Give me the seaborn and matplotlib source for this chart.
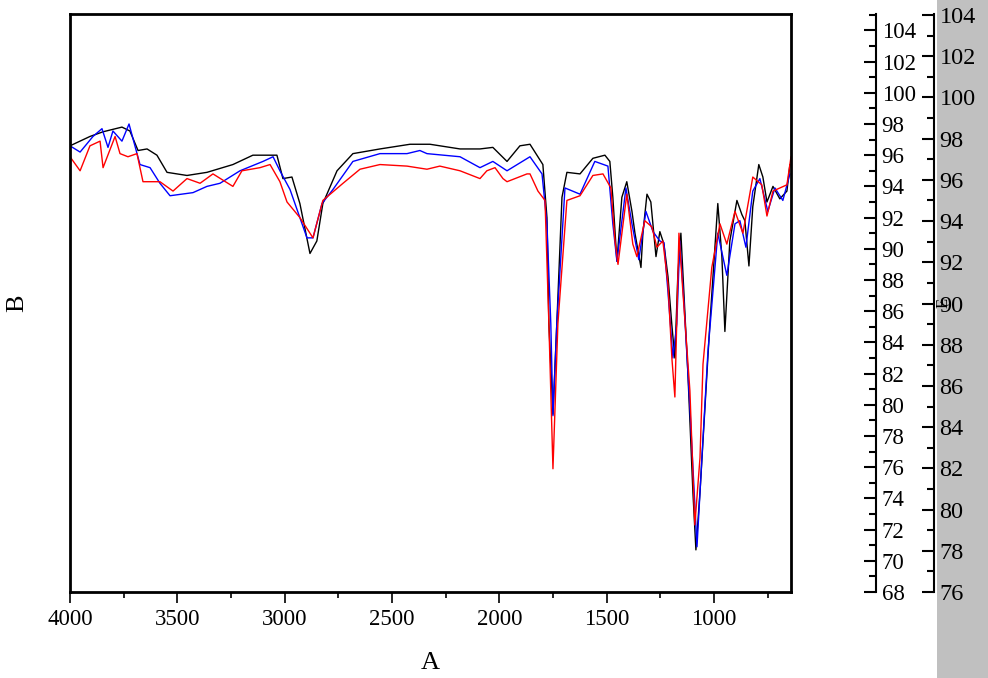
import numpy as np
import pandas as pd
import matplotlib
matplotlib.use("Agg")
import matplotlib.pyplot as plt
from matplotlib.ticker import MultipleLocator
from matplotlib.patches import Rectangle
import seaborn as sns

black_wn = [4000,3907,3846,3758,3721,3683,3641,3595,3548,3455,3362,3241,3148,3036,3008,2966,2929,2882,2850,2822,2756,2682,2556,2416,2323,2183,2090,2030,1964,1904,1857,1797,1778,1769,1750,1732,1708,1685,1624,1564,1508,1485,1471,1452,1429,1406,1382,1368,1340,1331,1312,1294,1270,1252,1233,1214,1196,1182,1168,1154,1140,1121,1098,1084,1065,1042,1019,982,963,949,926,893,870,856,837,819,791,772,753,725,693,660,646]
black_t = [96.6,97.2,97.5,97.8,97.55,96.3,96.4,96.0,94.9,94.7,94.9,95.4,96.0,96.0,94.5,94.6,92.9,89.7,90.5,92.9,95.0,96.1,96.4,96.7,96.7,96.4,96.4,96.5,95.6,96.6,96.7,95.4,92.0,85.2,79.4,85.2,93.3,94.9,94.8,95.8,96.0,95.6,93.3,89.2,93.3,94.3,92.4,91.0,88.8,91.0,93.5,93.0,89.5,91.1,90.3,88.2,85.1,83.0,88.4,91.0,87.2,81.9,74.4,70.7,74.4,79.8,85.2,92.9,89.5,84.7,90.5,93.1,92.2,91.8,88.9,92.7,95.4,94.6,93.0,94.0,93.2,93.7,95.4]

blue_wn = [4000,3953,3893,3851,3823,3800,3758,3725,3674,3627,3581,3534,3427,3362,3301,3208,3101,3054,3022,2975,2896,2868,2826,2775,2682,2556,2430,2370,2337,2183,2090,2030,1964,1857,1801,1778,1760,1750,1732,1694,1624,1555,1494,1471,1452,1410,1382,1350,1317,1284,1252,1233,1214,1191,1173,1159,1140,1112,1079,1056,1028,982,940,902,879,851,819,786,749,716,679,646]
blue_t = [96.6,96.2,97.2,97.7,96.5,97.55,96.9,98.0,95.4,95.2,94.2,93.4,93.6,94.0,94.2,95.0,95.6,95.9,95.0,93.8,90.7,90.7,92.9,93.8,95.6,96.1,96.1,96.3,96.1,95.9,95.2,95.6,95.0,95.9,94.8,91.6,85.2,79.3,85.2,93.9,93.5,95.6,95.3,91.6,89.2,93.9,91.6,89.3,92.4,91.1,90.5,90.4,87.2,83.0,85.2,90.5,86.6,79.8,70.9,76.6,83.4,91.0,88.3,91.6,91.8,90.1,93.7,94.5,92.4,93.9,93.1,94.8]

red_wn = [4000,3953,3907,3860,3846,3790,3767,3730,3688,3660,3581,3520,3455,3394,3334,3241,3199,3115,3068,3022,2989,2929,2868,2822,2728,2649,2556,2430,2337,2277,2183,2090,2058,2020,1983,1964,1871,1857,1820,1787,1769,1750,1727,1685,1624,1564,1517,1480,1461,1447,1406,1378,1359,1322,1289,1266,1238,1214,1196,1182,1163,1145,1112,1089,1065,1051,1010,972,940,902,865,819,777,753,725,660,641]
red_t = [95.9,95.0,96.6,96.9,95.2,97.2,96.1,95.9,96.1,94.3,94.3,93.7,94.5,94.2,94.8,94.0,95.0,95.2,95.4,94.3,93.0,92.0,90.7,93.1,94.2,95.1,95.4,95.3,95.1,95.3,95.0,94.5,95.0,95.2,94.5,94.3,94.8,94.8,93.7,93.1,85.2,75.9,85.2,93.1,93.4,94.7,94.8,93.9,90.5,89.0,93.5,90.3,89.5,91.8,91.4,90.1,90.5,87.7,83.0,80.5,91.0,87.3,80.9,72.3,76.6,82.6,88.8,91.6,90.3,92.4,91.0,94.6,94.1,92.1,93.7,94.1,95.9]

x_ticks = [4000, 3500, 3000, 2500, 2000, 1500, 1000]

sns.set_theme(style="ticks")
plt.rcParams['font.family'] = ['Liberation Serif', 'DejaVu Serif']
plt.rcParams['text.color'] = 'black'
plt.rcParams['axes.labelcolor'] = 'black'
plt.rcParams['xtick.color'] = 'black'
plt.rcParams['ytick.color'] = 'black'

fig = plt.figure(figsize=(9.88, 6.78), dpi=100)
fig.patches.append(Rectangle((937/988, 0), 51/988, 1, transform=fig.transFigure,
                             facecolor='#c0c0c0', edgecolor='none', zorder=-10))
ax = fig.add_axes([70/988, 86/678, 721/988, 578/678])
ax.patch.set_alpha(0)

df = pd.concat([
    pd.DataFrame({'wn': black_wn, 't': black_t, 's': 'black'}),
    pd.DataFrame({'wn': blue_wn, 't': blue_t, 's': 'blue'}),
    pd.DataFrame({'wn': red_wn, 't': red_t, 's': 'red'}),
])
sns.lineplot(data=df, x='wn', y='t', hue='s', palette={'black': 'black', 'blue': '#0000ff', 'red': '#ff0000'},
             sort=False, estimator=None, linewidth=1.0, legend=False, ax=ax)
ax.set_xlim(4000, 641)
ax.set_ylim(68, 105.05)
ax.set_xticks(x_ticks)
ax.xaxis.set_minor_locator(MultipleLocator(250))
ax.tick_params(axis='x', which='major', direction='out', length=8, width=1.2, labelsize=16.5, pad=4, labelcolor='black')
ax.tick_params(axis='x', which='minor', direction='out', length=4, width=1.2)
ax.set_yticks([])
ax.tick_params(axis='y', left=False, labelleft=False)
for sp in ax.spines.values():
    sp.set_visible(True)
    sp.set_linewidth(2)
    sp.set_color('black')
ax.set_xlabel('A', fontsize=19, labelpad=16)
ax.set_ylabel('B', fontsize=19, labelpad=30)

def side_axis(pos, lo, hi, ticks, size):
    a = ax.twinx()
    a.set_ylim(lo, hi)
    a.spines['right'].set_position(('axes', pos))
    for k in ['left', 'top', 'bottom']:
        a.spines[k].set_visible(False)
    a.spines['right'].set_linewidth(1.5)
    a.spines['right'].set_color('black')
    a.set_yticks(ticks)
    a.yaxis.set_minor_locator(MultipleLocator(1))
    a.tick_params(axis='y', which='major', direction='in', length=9, width=1.5, labelsize=size, pad=4, labelcolor='black')
    a.tick_params(axis='y', which='minor', direction='in', length=5, width=1.5)
    return a

a1 = side_axis((876 - 70) / 721, 68, 105.05, list(range(68, 105, 2)), 16.5)
a2 = side_axis((934 - 70) / 721, 76, 104.05, list(range(76, 105, 2)), 17.5)
fig.text(944/988, 1 - 303/678, 'E', rotation=90, fontsize=12, ha='center', va='center')

fig.savefig('out.png', dpi=100)
